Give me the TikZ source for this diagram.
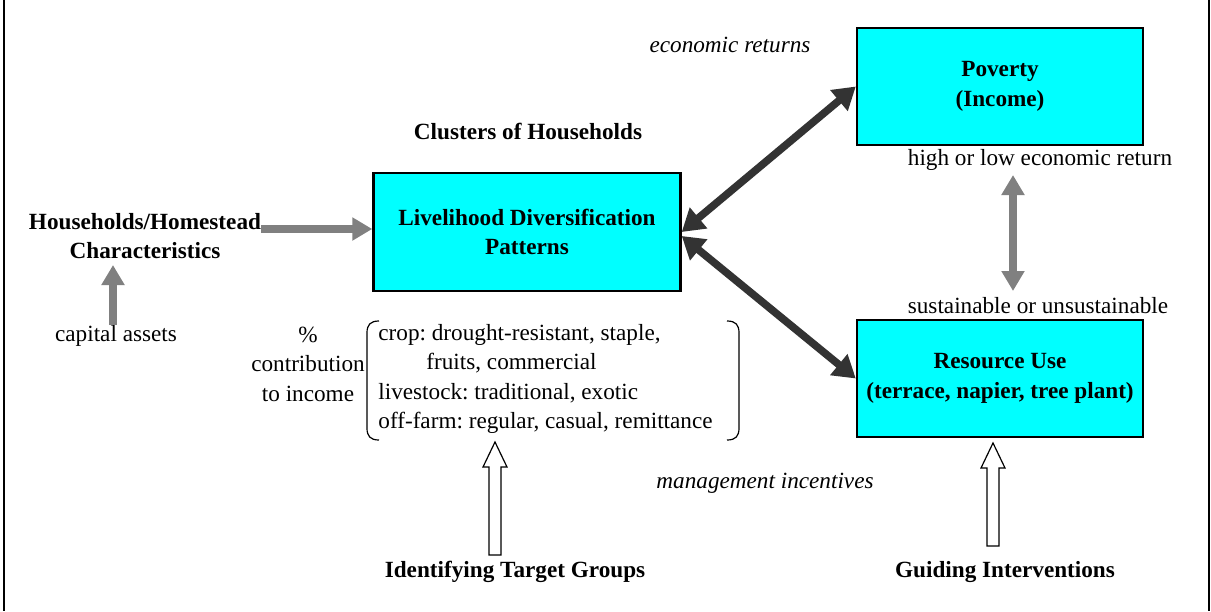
\documentclass[tikz,border=0pt]{standalone}
\usepackage{fontspec}
\setmainfont{Liberation Serif}
\usetikzlibrary{arrows.meta,calc}
\definecolor{boxcyan}{RGB}{0,255,255}
\definecolor{darkarr}{RGB}{51,51,51}
\definecolor{grayarr}{RGB}{128,128,128}
\frenchspacing

\begin{document}
\begin{tikzpicture}[x=0.5pt,y=-0.5pt,
		every node/.style={font=\fontsize{11.6}{14.7}\selectfont,inner sep=0pt,align=center},
		hdr/.style={font=\fontsize{11.6}{14.7}\selectfont\bfseries},
		note/.style={font=\fontsize{11.6}{14.7}\selectfont\itshape},
		cbox/.style={draw,line width=1.2pt,fill=boxcyan,minimum width=143pt,minimum height=58.5pt,font=\fontsize{11.6}{14.7}\selectfont\bfseries},
		grayarrow/.style={draw=grayarr,line width=3.8pt,-{Triangle[length=10pt,width=11pt]}},
		darkarrow/.style={draw=darkarr,line width=3.8pt,{Triangle[length=11pt,width=13pt]}-{Triangle[length=11pt,width=13pt]}},
		hollow/.style={draw,line width=0.6pt,fill=white}]
		\useasboundingbox (0,0) rectangle (1211,611);
		\draw[line width=1.4pt] (4,0) -- (4,611);
		\draw[line width=1.4pt] (1209,0) -- (1209,611);

		% boxes
		\node[cbox,minimum width=153.5pt,minimum height=59pt] (live) at (527,232) {Livelihood Diversification\\Patterns};
		\node[cbox] (pov) at (1000,86.5) {Poverty\\(Income)};
		\node[cbox] (res) at (1000,378.5) {Resource Use\\(terrace, napier, tree plant)};

		% labels
		\node[hdr] (hh) at (145,236) {Households/Homestead\\Characteristics};
		\node (cap) at (116,336) {capital assets};
		\node[hdr] (clu) at (528,131) {Clusters of Households};
		\node[note] (eco) at (730,45) {economic returns};
		\node (ret) at (1040,160) {high or low economic return};
		\node (sus) at (1038,306) {sustainable or unsustainable};
		\node[note] (mgt) at (765,483) {management incentives};
		\node (pct) at (308,364) {\%\\contribution\\to income};
		\node[align=left,anchor=west] (mix) at (378,379) {crop: drought-resistant, staple,\\
			\hspace*{24pt}fruits, commercial\\
			livestock: traditional, exotic\\
			off-farm: regular, casual, remittance};
		\node[hdr] (tg) at (515,572) {Identifying Target Groups};
		\node[hdr] (gi) at (1005,572) {Guiding Interventions};

		% bracket round the income sources
		\draw[line width=0.6pt] (379,321) .. controls (370,321) and (367,325) .. (367,333)
			-- (367,428) .. controls (367,436) and (370,440) .. (379,440);
		\draw[line width=0.6pt] (727,321) .. controls (736,321) and (739,325) .. (739,333)
			-- (739,428) .. controls (739,436) and (736,440) .. (727,440);

		% arrows
		\draw[grayarrow] (hh.east |- 0,229) -- (live.west |- 0,229);
		\draw[grayarrow] (cap.north -| 113,0) -- (113,265);
		\coordinate (g1) at (1013,175);
		\coordinate (g2) at (1013,291);
		\draw[grayarrow,{Triangle[length=10pt,width=11pt]}-{Triangle[length=10pt,width=11pt]}] (g1) -- (g2);
		\draw[darkarrow] (live.east) -- (pov.west);
		\draw[darkarrow] ([yshift=-2pt]live.east) -- (res.west);

		% open arrows from the bottom
		\coordinate (t1) at (495,555);
		\coordinate (t2) at (495,442);
		\draw[hollow] ($(t1)+(-6,0)$) -- ($(t2)+(-6,25)$) -- ($(t2)+(-12,25)$) -- (t2)
			-- ($(t2)+(12,25)$) -- ($(t2)+(6,25)$) -- ($(t1)+(6,0)$) -- cycle;
		\coordinate (i1) at (993,546);
		\coordinate (i2) at (993,443);
		\draw[hollow] ($(i1)+(-6,0)$) -- ($(i2)+(-6,25)$) -- ($(i2)+(-12,25)$) -- (i2)
			-- ($(i2)+(12,25)$) -- ($(i2)+(6,25)$) -- ($(i1)+(6,0)$) -- cycle;
\end{tikzpicture}
\end{document}
